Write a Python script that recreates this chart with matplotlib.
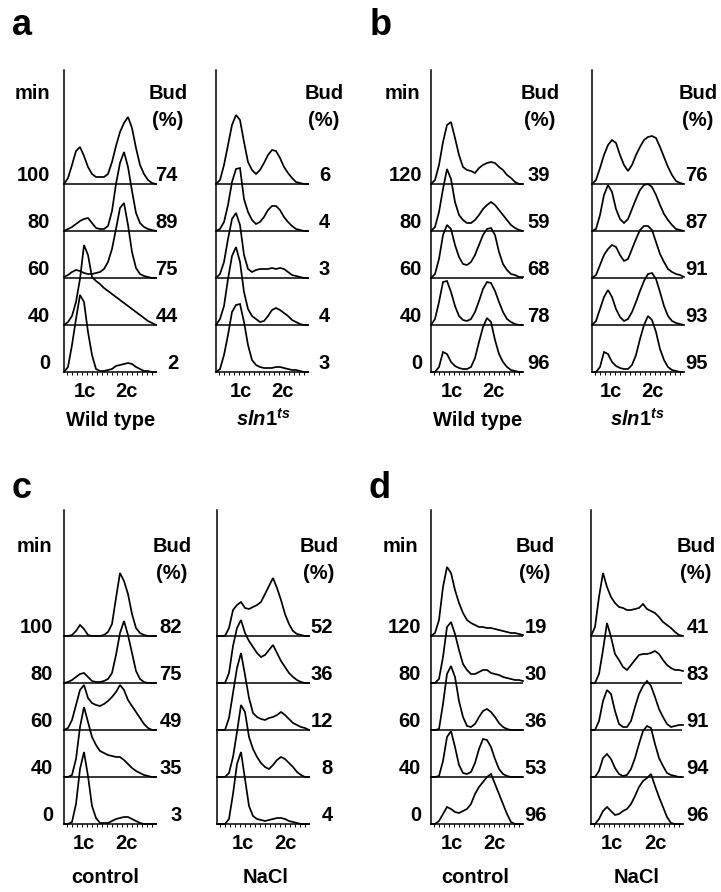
import matplotlib.pyplot as plt
import numpy as np

plt.rcParams['font.family'] = ['Liberation Sans', 'DejaVu Sans']
plt.rcParams['mathtext.fontset'] = 'custom'
plt.rcParams['mathtext.it'] = 'Liberation Sans:italic:bold'
plt.rcParams['mathtext.rm'] = 'Liberation Sans:bold'

W, H = 721, 892

# DNA content channels (histogram bins)
channels = np.arange(0, 96, 4)

# ---- panel a ----
a_times = ["100", "80", "60", "40", "0"]
a_wt_bud = ["74", "89", "75", "44", "2"]
a_sln_bud = ["6", "4", "3", "4", "3"]
a_wt = [
    [0, 6, 19, 33, 37, 28, 17, 10, 7, 7, 7, 10, 22, 38, 52, 61, 67, 56, 36, 19, 10, 4, 1, 0],
    [0, 2, 4, 7, 10, 12, 13, 8, 3, 2, 2, 5, 20, 47, 68, 79, 64, 40, 18, 8, 4, 2, 1, 0],
    [1, 3, 6, 8, 7, 5, 4, 4, 5, 6, 9, 16, 29, 49, 70, 75, 53, 26, 10, 4, 2, 1, 0, 0],
    [0, 3, 9, 23, 46, 80, 70, 48, 44, 41, 37, 34, 31, 28, 25, 22, 19, 16, 13, 10, 7, 4, 2, 0],
    [0, 5, 27, 53, 77, 70, 40, 17, 3, 1, 1, 2, 3, 6, 7, 8, 9, 8, 5, 3, 1, 1, 0, 0],
]
a_sln = [
    [0, 4, 19, 39, 59, 69, 64, 42, 22, 14, 10, 14, 21, 29, 34, 33, 26, 17, 11, 6, 2, 1, 0, 0],
    [0, 2, 9, 26, 49, 62, 63, 32, 19, 11, 7, 9, 14, 21, 25, 25, 21, 14, 9, 5, 2, 1, 0, 0],
    [0, 4, 16, 39, 59, 65, 53, 23, 9, 6, 8, 9, 9, 9, 10, 9, 10, 9, 6, 3, 2, 1, 0, 0],
    [0, 6, 19, 46, 69, 78, 63, 33, 16, 9, 6, 3, 4, 9, 15, 17, 15, 12, 9, 5, 3, 1, 0, 0],
    [0, 3, 17, 37, 60, 67, 68, 50, 27, 12, 7, 5, 4, 4, 4, 5, 5, 4, 3, 2, 2, 1, 0, 0],
]

# ---- panel b ----
b_times = ["120", "80", "60", "40", "0"]
b_wt_bud = ["39", "59", "68", "78", "96"]
b_sln_bud = ["76", "87", "91", "93", "95"]
b_wt = [
    [0, 4, 19, 42, 59, 62, 46, 29, 17, 14, 13, 11, 16, 19, 21, 22, 21, 17, 14, 9, 6, 2, 0, 0],
    [0, 4, 19, 42, 62, 52, 29, 16, 11, 8, 8, 11, 16, 22, 26, 29, 26, 21, 16, 11, 6, 3, 1, 0],
    [0, 4, 19, 43, 53, 49, 33, 21, 14, 13, 16, 23, 33, 43, 49, 50, 43, 26, 14, 8, 4, 3, 1, 1],
    [0, 6, 23, 43, 44, 33, 19, 9, 5, 4, 6, 13, 24, 36, 43, 42, 34, 23, 13, 6, 3, 1, 0, 0],
    [0, 0, 5, 20, 18, 10, 6, 4, 3, 3, 5, 14, 30, 45, 54, 50, 32, 18, 10, 5, 2, 1, 0, 0],
]
b_sln = [
    [0, 4, 16, 29, 39, 44, 41, 29, 19, 13, 19, 29, 37, 44, 47, 48, 46, 37, 27, 17, 9, 3, 1, 0],
    [0, 2, 16, 36, 46, 39, 22, 12, 8, 12, 22, 32, 41, 46, 47, 44, 36, 26, 17, 11, 6, 2, 1, 0],
    [0, 3, 13, 23, 29, 33, 31, 23, 17, 19, 29, 39, 48, 52, 52, 48, 36, 24, 16, 9, 6, 4, 3, 1],
    [0, 4, 16, 28, 35, 28, 16, 8, 4, 6, 13, 23, 34, 44, 51, 52, 46, 33, 19, 9, 4, 2, 1, 0],
    [0, 0, 5, 20, 18, 10, 6, 4, 3, 3, 7, 17, 33, 47, 56, 52, 40, 23, 12, 5, 2, 1, 0, 0],
]

# ---- panel c ----
c_times = ["100", "80", "60", "40", "0"]
c_ctrl_bud = ["82", "75", "49", "35", "3"]
c_nacl_bud = ["52", "36", "12", "8", "4"]
c_ctrl = [
    [0, 0, 1, 5, 11, 7, 1, 0, 0, 0, 1, 4, 12, 38, 63, 55, 42, 22, 8, 3, 1, 0, 0, 0],
    [0, 1, 3, 6, 9, 10, 6, 2, 1, 1, 2, 4, 10, 28, 50, 62, 48, 30, 12, 4, 1, 0, 0, 0],
    [0, 2, 10, 25, 40, 45, 32, 27, 25, 24, 26, 29, 33, 38, 45, 40, 30, 24, 18, 12, 6, 2, 0, 0],
    [0, 0, 2, 18, 50, 70, 55, 40, 32, 26, 24, 22, 21, 20, 20, 17, 13, 9, 6, 4, 2, 1, 0, 0],
    [0, 0, 2, 20, 55, 72, 48, 18, 6, 1, 1, 1, 3, 5, 6, 7, 7, 5, 3, 1, 0, 0, 0, 0],
]
c_nacl = [
    [0, 0, 0, 8, 26, 31, 34, 28, 27, 29, 31, 34, 42, 50, 58, 48, 36, 22, 12, 5, 2, 1, 0, 0],
    [0, 0, 0, 10, 37, 55, 63, 50, 42, 36, 30, 26, 28, 33, 38, 30, 22, 16, 10, 6, 3, 1, 0, 0],
    [0, 0, 0, 12, 37, 62, 77, 55, 32, 17, 13, 11, 10, 12, 13, 15, 18, 15, 11, 7, 5, 3, 2, 0],
    [0, 0, 0, 4, 20, 45, 72, 65, 40, 28, 20, 14, 10, 8, 12, 17, 20, 18, 14, 10, 5, 2, 0, 0],
    [0, 0, 0, 5, 30, 60, 72, 45, 18, 8, 5, 4, 3, 4, 5, 6, 6, 5, 3, 2, 1, 0, 0, 0],
]

# ---- panel d ----
d_times = ["120", "80", "60", "40", "0"]
d_ctrl_bud = ["19", "30", "36", "53", "96"]
d_nacl_bud = ["41", "83", "91", "94", "96"]
d_ctrl = [
    [0, 3, 16, 49, 69, 63, 46, 33, 23, 16, 13, 11, 9, 9, 8, 8, 7, 6, 5, 4, 3, 3, 2, 1],
    [0, 0, 4, 26, 56, 61, 49, 33, 19, 13, 9, 9, 11, 13, 13, 10, 9, 8, 6, 5, 4, 3, 3, 2],
    [0, 0, 1, 26, 56, 64, 53, 29, 13, 4, 3, 6, 13, 19, 21, 18, 13, 7, 3, 1, 0, 0, 0, 0],
    [0, 0, 1, 16, 40, 46, 30, 12, 4, 3, 5, 14, 28, 38, 37, 30, 18, 8, 3, 1, 0, 0, 0, 0],
    [0, 0, 3, 10, 17, 15, 12, 11, 13, 15, 20, 30, 37, 42, 47, 50, 40, 30, 20, 10, 2, 0, 0, 0],
]
d_nacl = [
    [0, 9, 39, 63, 49, 39, 33, 29, 28, 26, 26, 27, 28, 32, 27, 25, 23, 19, 14, 11, 8, 4, 1, 0],
    [0, 0, 9, 33, 60, 46, 29, 23, 16, 13, 18, 23, 28, 29, 29, 30, 32, 29, 23, 18, 15, 13, 13, 12],
    [0, 0, 9, 29, 40, 36, 19, 6, 3, 3, 9, 23, 36, 44, 49, 44, 33, 21, 13, 6, 3, 4, 5, 5],
    [0, 0, 6, 19, 23, 18, 9, 3, 1, 2, 8, 19, 33, 46, 51, 49, 33, 19, 11, 4, 2, 1, 0, 0],
    [0, 0, 5, 13, 17, 13, 9, 10, 13, 15, 20, 28, 37, 43, 46, 50, 38, 27, 17, 7, 1, 0, 0, 0],
]

ROW_STEP = 47
FS = 14.5

fig = plt.figure(figsize=(W / 100, H / 100), dpi=100)


def txt(x, y, s, ha='center', size=FS, **kw):
    # x, y in pixels from top-left, y = text baseline
    fig.text(x / W, 1 - y / H, s, ha=ha, va='baseline', fontsize=size,
             fontweight='bold', **kw)


def hist_stack(rect, traces, bud, bud_x):
    left, top, right, bottom = rect
    ax = fig.add_axes([left / W, 1 - bottom / H, (right - left) / W, (bottom - top) / H])
    ax.set_xlim(0, right - left)
    ax.set_ylim(0, bottom - top)
    n = len(traces)
    for i, tr in enumerate(traces):
        off = (n - 1 - i) * ROW_STEP
        ax.plot(channels, np.array(tr) + off, color='black', lw=1.25,
                solid_joinstyle='miter', clip_on=False)
        ax.hlines(off, 0, right - left, color='black', lw=1.1, clip_on=False)
        txt(bud_x, bottom - off - 3, bud[i], ha='right')
    for s in ['top', 'right', 'bottom']:
        ax.spines[s].set_visible(False)
    ax.spines['left'].set_linewidth(1.1)
    ax.set_yticks([])
    ax.set_xticks(np.arange(3, right - left, 5))
    ax.tick_params(axis='x', length=2, width=0.7, direction='out', labelbottom=False)
    return ax


def panel(letter, lx, ly, min_x, time_x, times, left_spec, right_spec, cond_y, conds, top_y):
    txt(lx, ly, letter, ha='left', size=26)
    txt(min_x, top_y, "min")
    bottom = left_spec[0][3]
    for i, t in enumerate(times):
        off = (len(times) - 1 - i) * ROW_STEP
        txt(time_x, bottom - off - 3, t, ha='right')
    for (rect, traces, bud, bud_x, bud_c, tick_x), cond, cx in zip(
            [left_spec, right_spec], conds[0], conds[1]):
        hist_stack(rect, traces, bud, bud_x)
        txt(bud_c, top_y, "Bud")
        txt(bud_c, top_y + 27, "(%)")
        txt(tick_x[0], rect[3] + 25, "1c")
        txt(tick_x[1], rect[3] + 25, "2c")
        txt(cx, cond_y, cond)


sln = r'$\mathit{sln1}^{\mathit{ts}}$'

panel("a", 12, 35, 32, 50, a_times,
      ((64, 70, 157, 372), a_wt, a_wt_bud, 178, 168, (85, 126)),
      ((216, 70, 309, 372), a_sln, a_sln_bud, 330, 324, (241, 282)),
      426, (["Wild type", sln], [111, 263]), 99)

panel("b", 370, 35, 402, 422, b_times,
      ((431, 70, 523, 372), b_wt, b_wt_bud, 550, 540, (452, 493)),
      ((592, 70, 683, 372), b_sln, b_sln_bud, 708, 698, (611, 652)),
      426, (["Wild type", sln], [478, 637]), 99)

panel("c", 12, 498, 34, 53, c_times,
      ((64, 510, 157, 824), c_ctrl, c_ctrl_bud, 182, 172, (84, 126)),
      ((217, 510, 310, 824), c_nacl, c_nacl_bud, 333, 319, (243, 285)),
      883, (["control", "NaCl"], [105, 266]), 552)

panel("d", 368, 498, 400, 421, d_times,
      ((431, 510, 523, 824), d_ctrl, d_ctrl_bud, 547, 535, (452, 494)),
      ((591, 510, 682, 824), d_nacl, d_nacl_bud, 709, 696, (612, 655)),
      883, (["control", "NaCl"], [475, 637]), 552)

fig.savefig("out.png", dpi=100)
